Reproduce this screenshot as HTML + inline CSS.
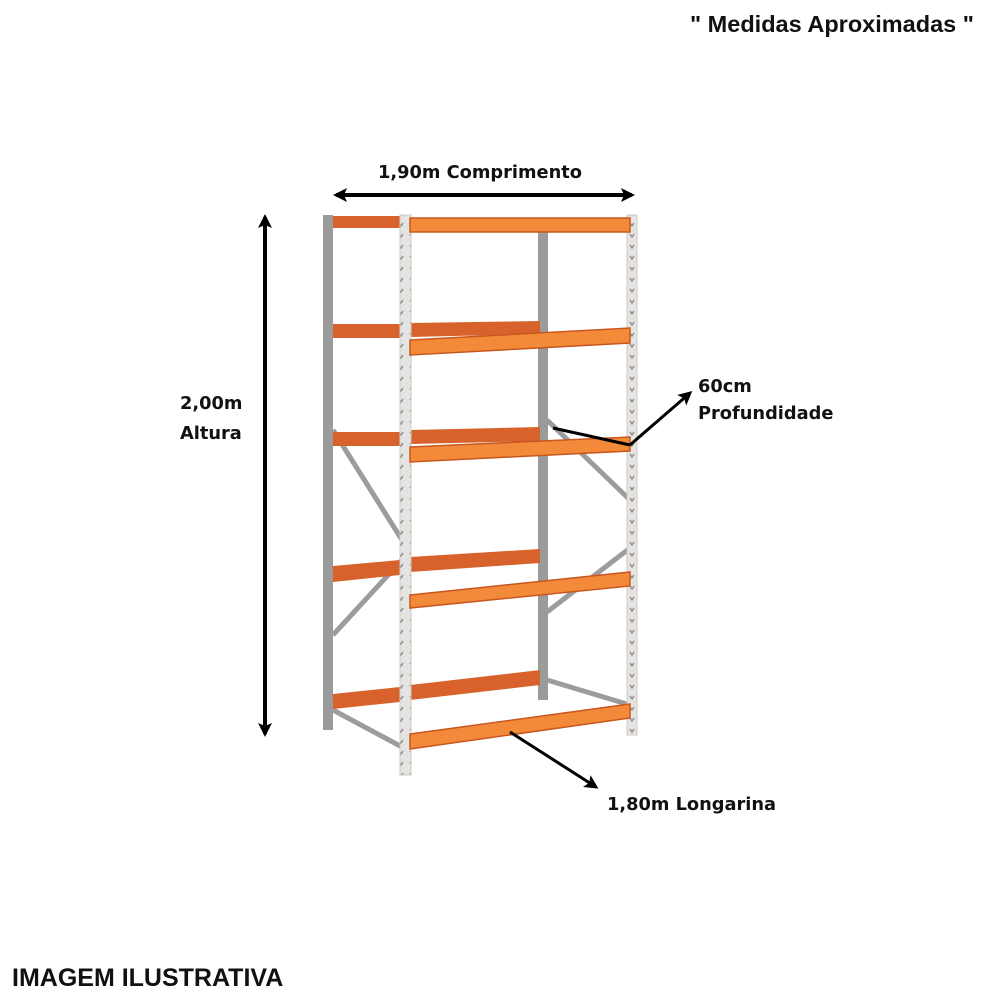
<!DOCTYPE html>
<html><head><meta charset="utf-8"><style>
html,body{margin:0;padding:0;background:#fff;}
svg{display:block}
text{font-family:"DejaVu Sans","Liberation Sans",sans-serif;font-weight:bold;fill:#111}
.a{font-family:"Liberation Sans",sans-serif}
</style></head><body>
<svg width="1000" height="1000" viewBox="0 0 1000 1000" xmlns="http://www.w3.org/2000/svg">
<defs>
<marker id="ah" markerWidth="14" markerHeight="14" refX="11" refY="7" orient="auto-start-reverse" markerUnits="userSpaceOnUse">
<path d="M0,0 L14,7 L0,14 L3,7 z" fill="#000"/></marker>
<pattern id="holes" width="11" height="11" patternUnits="userSpaceOnUse">
<rect width="11" height="11" fill="#e6e4e2"/>
<path d="M3,3 l2,3 l2,-3" stroke="#8a8580" stroke-width="1.3" fill="none"/>
</pattern>
</defs>
<text class="a" x="690" y="32" font-size="23.5">" Medidas Aproximadas "</text>
<text class="a" x="12" y="986" font-size="25">IMAGEM ILUSTRATIVA</text>

<g stroke="#9c9c9c" stroke-width="5">
<line x1="333" y1="430" x2="402" y2="540"/>
<line x1="402" y1="560" x2="333" y2="635"/>
<line x1="333" y1="710" x2="402" y2="747"/>
<line x1="547" y1="420" x2="630" y2="500"/>
<line x1="630" y1="548" x2="547" y2="612"/>
<line x1="547" y1="680" x2="630" y2="705"/>
</g>
<rect x="323" y="215" width="10" height="515" fill="#9b9b9b"/>
<rect x="538" y="232" width="10" height="468" fill="#9b9b9b"/>
<g fill="#d8622c">
<rect x="333" y="216" width="68" height="12"/>
<rect x="333" y="324" width="68" height="14"/>
<rect x="333" y="432" width="68" height="14"/>
<polygon points="333,566 400,560 400,575 333,582"/>
<polygon points="333,694 400,687 400,702 333,709"/>
<polygon points="410,323 540,321 540,334 410,337"/>
<polygon points="410,430 540,427 540,441 410,444"/>
<polygon points="410,557 540,549 540,563 410,572"/>
<polygon points="410,685 540,670 540,685 410,700"/>
</g>
<rect x="400" y="215" width="11" height="560" fill="url(#holes)" stroke="#cfcac5" stroke-width="1"/>
<rect x="627" y="215" width="10" height="520" fill="url(#holes)" stroke="#cfcac5" stroke-width="1"/>
<g fill="#f28a3a" stroke="#c8571f" stroke-width="1.5">
<polygon points="410,218 630,218 630,232 410,232"/>
<polygon points="410,340 630,328 630,343 410,355"/>
<polygon points="410,447 630,437 630,451 410,462"/>
<polygon points="410,595 630,572 630,586 410,608"/>
<polygon points="410,734 630,704 630,718 410,749"/>
</g>

<g stroke="#000" stroke-width="4" fill="none">
<line x1="336" y1="195" x2="632" y2="195" marker-end="url(#ah)" marker-start="url(#ah)"/>
<line x1="265" y1="217" x2="265" y2="734" marker-end="url(#ah)" marker-start="url(#ah)"/>
</g>
<g stroke="#000" stroke-width="3" fill="none">
<line x1="553" y1="428" x2="630" y2="445"/>
<line x1="630" y1="445" x2="690" y2="393" marker-end="url(#ah)"/>
<line x1="510" y1="732" x2="596" y2="787" marker-end="url(#ah)"/>
</g>

<text x="378" y="178" font-size="17.8">1,90m Comprimento</text>
<text x="180" y="409" font-size="17.8">2,00m</text>
<text x="180" y="439" font-size="17.8">Altura</text>
<text x="698" y="392" font-size="17.8">60cm</text>
<text x="698" y="419" font-size="17.8">Profundidade</text>
<text x="607" y="810" font-size="17.8">1,80m Longarina</text>
</svg>
</body></html>
